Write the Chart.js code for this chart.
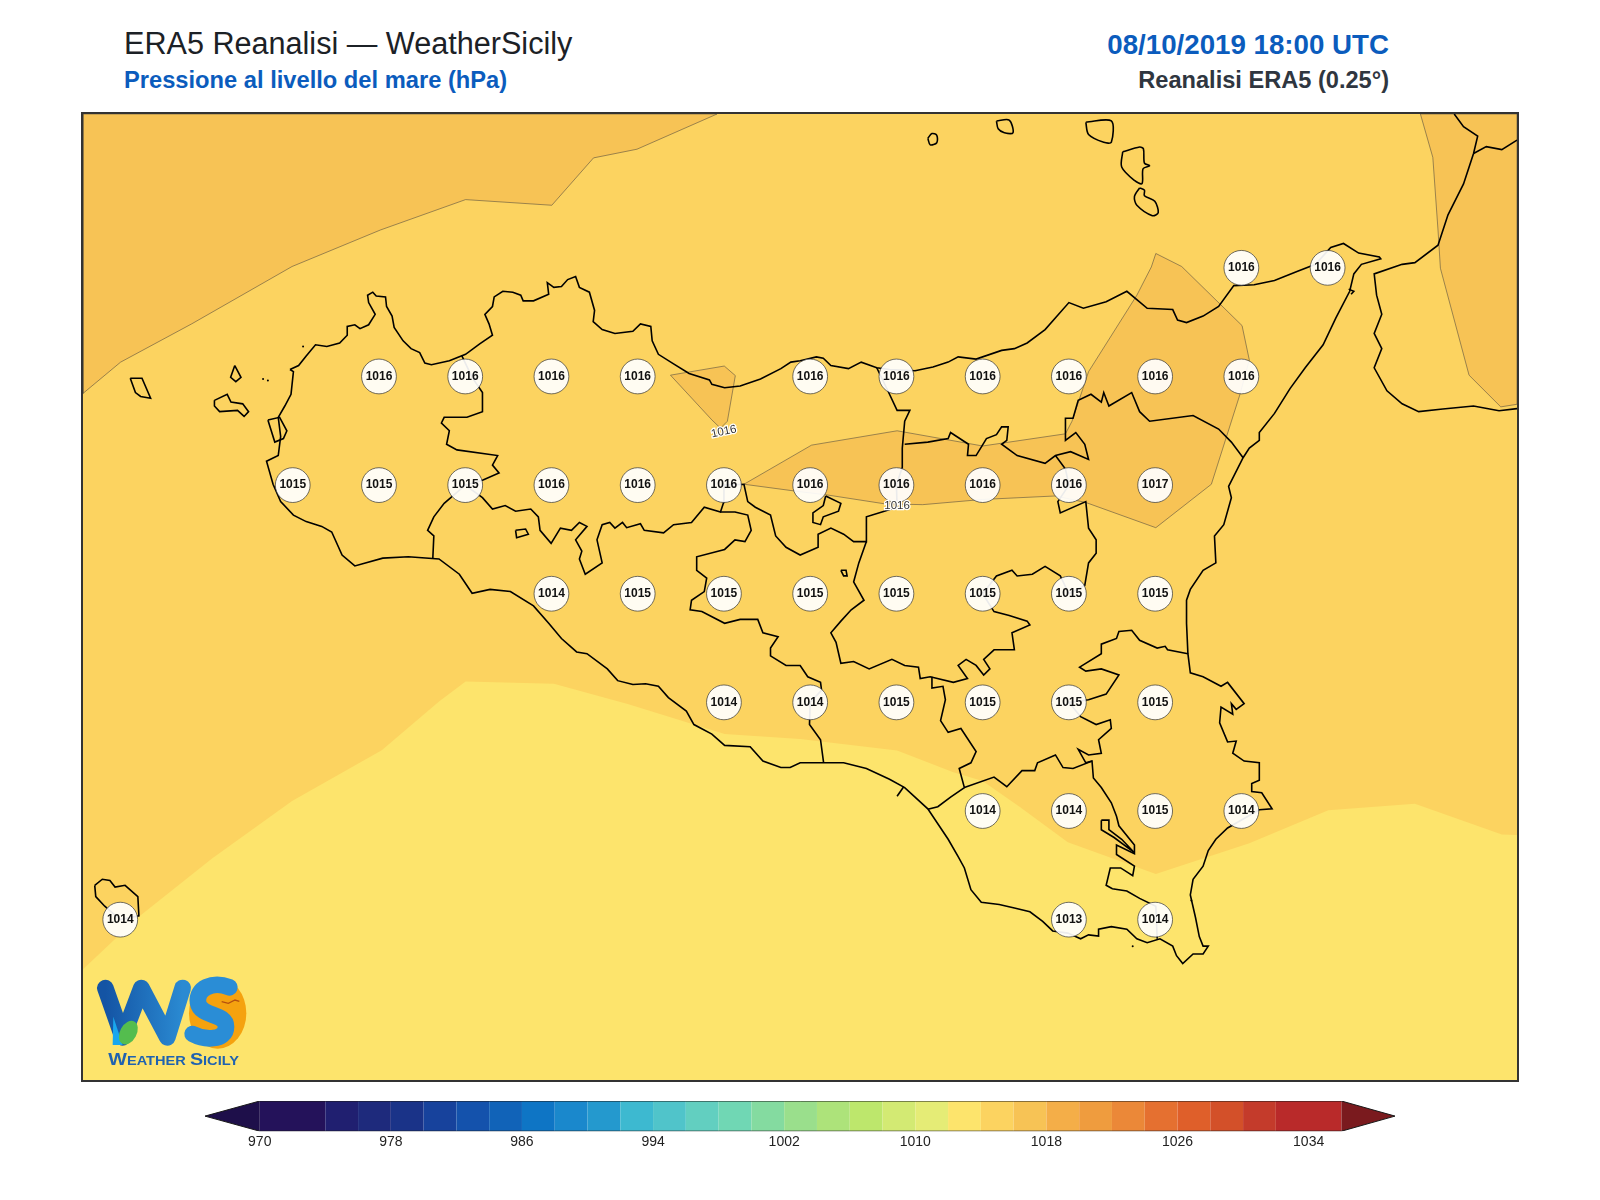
<!DOCTYPE html>
<html>
<head>
<meta charset="utf-8">
<title>ERA5 Reanalisi - WeatherSicily</title>
<script src="https://cdn.jsdelivr.net/npm/chart.js@4"></script>
<style>
  html, body { margin: 0; padding: 0; background: #fff; }
  body { width: 1600px; height: 1200px; position: relative; overflow: hidden; font-family: "Liberation Sans", Arial, sans-serif; }
  .t { position: absolute; white-space: nowrap; line-height: 1; }
  #mapChart { position: absolute; left: 83px; top: 114px; outline: 2px solid #333; }
  #barChart { position: absolute; left: 205px; top: 1101px; }
  #logo { position: absolute; left: 80px; top: 960px; }
</style>
</head>
<body>
<div class="t" style="left:124px;top:28px;font-size:30.6px;color:#1c2126">ERA5 Reanalisi — WeatherSicily</div>
<div class="t" style="left:124px;top:69px;font-size:23.7px;font-weight:bold;color:#0b5cbd">Pressione al livello del mare (hPa)</div>
<div class="t" style="right:211px;top:31px;font-size:27.7px;font-weight:bold;color:#0b5cbd">08/10/2019 18:00 UTC</div>
<div class="t" style="right:211px;top:69px;font-size:23.6px;font-weight:bold;color:#2f3640">Reanalisi ERA5 (0.25°)</div>

<canvas id="mapChart" width="1434" height="966"></canvas>
<canvas id="barChart" width="1190" height="53"></canvas>

<svg id="logo" width="200" height="130" viewBox="0 0 600 390">
  <defs>
    <linearGradient id="wGrad" x1="0" x2="1" y1="0" y2="0">
      <stop offset="0" stop-color="#1454a4"/><stop offset="1" stop-color="#2a8ad2"/>
    </linearGradient>
  </defs>
  <ellipse cx="413" cy="160" rx="86" ry="106" fill="#f5a20f"/>
  <path d="M76 84 L128 232 L184 84 L262 232 L308 84" fill="none" stroke="url(#wGrad)" stroke-width="50" stroke-linejoin="round" stroke-linecap="round"/>
  <path d="M100 170 L128 255 L98 255 Z" fill="#19a7ee"/>
  <ellipse cx="145" cy="218" rx="25" ry="38" transform="rotate(28 145 218)" fill="#54bd4e"/>
  <path d="M448 82 C398 62 348 85 354 128 C362 172 438 158 438 200 C438 244 372 240 338 222" fill="none" stroke="#2a8dd6" stroke-width="50" stroke-linecap="round"/>
  <path d="M425 125 L445 130 L465 120 L478 124" fill="none" stroke="#b5500f" stroke-width="4"/>
  <text x="85" y="316" font-family="Liberation Sans" font-weight="bold" font-size="37" fill="#1f62b0" textLength="392" lengthAdjust="spacingAndGlyphs"><tspan font-size="50">W</tspan>EATHER <tspan font-size="50">S</tspan>ICILY</text>
</svg>

<script>
// limiti della mappa (gradi)
const lonMin = 11.892, lonMax = 16.049;
const latMin = 36.381, latMax = 38.604;

// griglia ERA5: valori letti nei cerchi
const stationLon = [
  15.25, 15.5,
  12.75, 13, 13.25, 13.5, 14, 14.25, 14.5, 14.75, 15, 15.25,
  12.5, 12.75, 13, 13.25, 13.5, 13.75, 14, 14.25, 14.5, 14.75, 15,
  13.25, 13.5, 13.75, 14, 14.25, 14.5, 14.75, 15,
  13.75, 14, 14.25, 14.5, 14.75, 15,
  14.5, 14.75, 15, 15.25,
  12, 14.75, 15
];
const stationLat = [
  38.25, 38.25,
  38, 38, 38, 38, 38, 38, 38, 38, 38, 38,
  37.75, 37.75, 37.75, 37.75, 37.75, 37.75, 37.75, 37.75, 37.75, 37.75, 37.75,
  37.5, 37.5, 37.5, 37.5, 37.5, 37.5, 37.5, 37.5,
  37.25, 37.25, 37.25, 37.25, 37.25, 37.25,
  37, 37, 37, 37,
  36.75, 36.75, 36.75
];
const stationHpa = [
  1016, 1016,
  1016, 1016, 1016, 1016, 1016, 1016, 1016, 1016, 1016, 1016,
  1015, 1015, 1015, 1016, 1016, 1016, 1016, 1016, 1016, 1016, 1017,
  1014, 1015, 1015, 1015, 1015, 1015, 1015, 1015,
  1014, 1014, 1015, 1015, 1015, 1015,
  1014, 1014, 1015, 1014,
  1014, 1013, 1014
];

// colorbar
const barLevels = [970, 974, 976, 978, 980, 982, 984, 986, 988, 990, 992, 994, 996, 998, 1000, 1002, 1004, 1006, 1008, 1010, 1012, 1014, 1016, 1018, 1020, 1022, 1024, 1026, 1028, 1030, 1032, 1036];
const barColours = ['#24125a', '#201f70', '#1e2a7c', '#1a3388', '#17429c', '#1452ac', '#1163b8', '#0e75c5', '#1a88cc', '#2499ce', '#3db9d0', '#50c4ca', '#62cfc0', '#70d7b4', '#84dba0', '#9adf8c', '#ade37a', '#bde76c', '#d3ea73', '#e5ec76', '#fde46c', '#fcd360', '#f7c355', '#f4ae48', '#ef9c3e', '#eb8838', '#e57030', '#df5f2a', '#d35029', '#c43b2b', '#b92a2a'];
const barTicks = [970, 978, 986, 994, 1002, 1010, 1018, 1026, 1034];
const barTipLow = 966.66, barTipHigh = 1039.27;

// contorni pressione
const band1014 = [[11.892,38.604],[16.049,38.604],[16.049,36.945],[16.005,36.946],[15.753,37.017],[15.502,37.002],[15.273,36.926],[15.002,36.855],[14.747,36.928],[14.607,37.010],[14.500,37.069],[14.415,37.089],[14.252,37.139],[13.971,37.166],[13.752,37.177],[13.471,37.246],[13.257,37.293],[13.001,37.298],[12.924,37.252],[12.758,37.140],[12.498,37.023],[12.266,36.891],[12.051,36.755],[11.892,36.636]];
const band1016NW = [[11.892,38.604],[11.892,37.961],[12.001,38.033],[12.207,38.121],[12.498,38.253],[12.754,38.337],[13.001,38.407],[13.251,38.394],[13.372,38.503],[13.498,38.523],[13.73,38.604]];
const band1016Termini = [[13.595,38.003],[13.751,38.024],[13.783,38.002],[13.760,37.897],[13.740,37.881],[13.715,37.900]];
const band1016Centre = [[15.002,38.283],[15.077,38.253],[15.252,38.117],[15.273,38.038],[15.246,37.959],[15.163,37.752],[15.002,37.652],[14.799,37.710],[14.711,37.725],[14.500,37.717],[14.326,37.705],[14.215,37.707],[14.052,37.727],[13.959,37.736],[13.808,37.752],[14.004,37.842],[14.252,37.875],[14.500,37.840],[14.740,37.868],[14.759,37.897],[14.807,38.011],[14.947,38.187],[14.989,38.252]];
const band1016East = [[15.769,38.604],[15.805,38.504],[15.820,38.337],[15.827,38.249],[15.910,38.003],[16.002,37.930],[16.049,37.936],[16.049,38.604]];
const contourLabelLon = [13.75, 14.252];
const contourLabelLat = [37.873, 37.702];
const contourLabelDeg = [-12, 0];

// costa Sicilia
const coastSicily = [[12.492,38.016],[12.517,38.025],[12.539,38.047],[12.566,38.073],[12.599,38.069],[12.636,38.077],[12.658,38.095],[12.658,38.115],[12.680,38.119],[12.695,38.110],[12.720,38.119],[12.739,38.143],[12.720,38.170],[12.717,38.187],[12.732,38.194],[12.742,38.185],[12.769,38.183],[12.772,38.161],[12.788,38.139],[12.794,38.113],[12.820,38.082],[12.843,38.064],[12.868,38.055],[12.883,38.031],[12.902,38.027],[12.954,38.036],[13.001,38.051],[13.042,38.075],[13.079,38.095],[13.069,38.121],[13.057,38.143],[13.079,38.161],[13.084,38.183],[13.109,38.196],[13.138,38.194],[13.161,38.187],[13.168,38.174],[13.198,38.174],[13.242,38.189],[13.238,38.216],[13.257,38.205],[13.279,38.207],[13.297,38.223],[13.320,38.230],[13.331,38.205],[13.360,38.194],[13.375,38.152],[13.371,38.126],[13.397,38.108],[13.434,38.099],[13.486,38.104],[13.508,38.121],[13.538,38.115],[13.542,38.082],[13.560,38.051],[13.604,38.029],[13.649,38.007],[13.708,37.992],[13.715,37.982],[13.752,37.974],[13.797,37.978],[13.856,37.994],[13.915,38.018],[13.944,38.033],[13.971,38.036],
  [14.018,38.045],[14.038,38.042],[14.060,38.025],[14.111,38.018],[14.148,38.033],[14.193,38.020],[14.230,38.016],[14.304,38.013],[14.356,38.022],[14.400,38.033],[14.429,38.045],[14.481,38.040],[14.555,38.060],[14.592,38.064],[14.629,38.077],[14.681,38.108],[14.750,38.170],[14.792,38.157],[14.858,38.172],[14.918,38.196],[14.977,38.157],[15.051,38.154],[15.065,38.130],[15.091,38.124],[15.139,38.139],[15.184,38.161],[15.228,38.209],[15.287,38.211],[15.346,38.221],[15.413,38.242],[15.465,38.258],[15.509,38.297],[15.546,38.306],[15.590,38.284],[15.650,38.275],[15.654,38.271],[15.598,38.258],[15.576,38.236],[15.564,38.196],[15.524,38.135],[15.487,38.073],[15.435,38.020],[15.391,37.972],[15.346,37.915],[15.302,37.871],[15.302,37.853],[15.273,37.835],[15.255,37.813],[15.213,37.747],[15.221,37.721],[15.199,37.659],[15.172,37.633],[15.176,37.571],[15.139,37.554],[15.102,37.510],[15.091,37.485],
  [15.091,37.432],[15.095,37.362],[15.102,37.318],[15.139,37.309],[15.191,37.287],[15.210,37.296],[15.258,37.247],[15.235,37.234],[15.221,37.247],[15.225,37.223],[15.191,37.239],[15.187,37.203],[15.210,37.159],[15.235,37.161],[15.225,37.133],[15.258,37.115],[15.302,37.111],[15.302,37.071],[15.280,37.063],[15.280,37.045],[15.309,37.042],[15.339,37.005],[15.302,37.003],[15.210,36.961],[15.176,36.935],[15.154,36.909],[15.139,36.873],[15.110,36.843],[15.102,36.807],[15.117,36.755],[15.128,36.711],[15.139,36.689],[15.154,36.689],[15.139,36.671],[15.110,36.671],[15.080,36.649],[15.062,36.667],[15.051,36.689],[15.014,36.706],[14.977,36.697],[14.947,36.706],[14.918,36.728],[14.873,36.734],[14.836,36.728],[14.836,36.712],[14.807,36.715],[14.784,36.706],[14.747,36.719],[14.703,36.724],[14.674,36.746],[14.637,36.768],[14.592,36.777],[14.548,36.785],[14.496,36.790],[14.466,36.819],[14.447,36.869],[14.429,36.895],[14.400,36.935],[14.341,37.005],[14.274,37.054],[14.230,37.073],[14.163,37.098],[14.097,37.111],[14.038,37.111],[13.971,37.111],
  [13.942,37.100],[13.915,37.100],[13.863,37.115],[13.826,37.148],[13.752,37.151],[13.715,37.177],[13.663,37.199],[13.641,37.230],[13.589,37.261],[13.560,37.287],[13.523,37.293],[13.486,37.291],[13.442,37.300],[13.412,37.327],[13.353,37.362],[13.323,37.366],[13.279,37.397],[13.242,37.432],[13.198,37.472],
  [13.131,37.505],[13.072,37.510],[13.020,37.501],[12.983,37.545],[12.924,37.580],[12.835,37.585],[12.761,37.582],[12.680,37.564],[12.643,37.589],[12.613,37.642],[12.584,37.655],[12.539,37.666],[12.502,37.681],[12.465,37.712],[12.443,37.752],[12.424,37.805],[12.458,37.818],[12.465,37.862],[12.458,37.906],[12.477,37.932],[12.495,37.959],[12.502,38.011],[12.492,38.016]];

// confini provinciali
const borderTrapani = [[12.990,38.048],[13.020,37.998],[13.050,37.963],[13.050,37.919],[13.005,37.906],[12.939,37.906],[12.931,37.893],[12.954,37.875],[12.946,37.844],[12.976,37.831],[13.094,37.818],[13.079,37.796],[13.098,37.778],[13.050,37.761],[13,37.75],[12.939,37.708],[12.909,37.677],[12.891,37.646],[12.909,37.633],[12.906,37.580]];
const borderPalermoSud = [[13,37.75],[13.050,37.721],[13.079,37.695],[13.116,37.703],[13.146,37.690],[13.190,37.695],[13.212,37.677],[13.217,37.646],[13.249,37.616],[13.276,37.651],[13.308,37.646],[13.331,37.664],[13.353,37.655],[13.320,37.624],[13.338,37.598],[13.331,37.580],[13.348,37.545],[13.397,37.571],[13.382,37.624],[13.397,37.659],[13.419,37.664],[13.434,37.651],[13.456,37.664],[13.468,37.652],[13.508,37.661],[13.519,37.646],[13.575,37.640],[13.604,37.659],[13.656,37.664],[13.693,37.699],[13.740,37.688],[13.749,37.710],[13.75,37.75]];
const borderAgrigento = [[13.740,37.688],[13.782,37.688],[13.819,37.681],[13.829,37.646],[13.811,37.620],[13.782,37.624],[13.752,37.602],[13.671,37.585],[13.671,37.554],[13.700,37.536],[13.693,37.505],[13.656,37.485],[13.652,37.463],[13.686,37.459],[13.752,37.432],[13.797,37.441],[13.848,37.441],[13.863,37.410],[13.907,37.401],[13.885,37.375],[13.885,37.357],[13.930,37.335],[13.971,37.335],[13.993,37.309],[14.030,37.296],[14.033,37.278],[14,37.25],[13.998,37.199],[14.030,37.164],[14.039,37.111]];
const borderMadonie = [[13.75,37.75],[13.808,37.752],[13.819,37.712],[13.841,37.699],[13.885,37.681],[13.900,37.633],[13.930,37.607],[13.971,37.589],[14.023,37.607],[14.023,37.637],[14.060,37.651],[14.097,37.637],[14.126,37.620],[14.163,37.620],[14.163,37.677],[14.215,37.690],[14.252,37.699],[14.25,37.75],[14.267,37.791],[14.267,37.835],[14.274,37.897],[14.289,37.922],[14.252,37.922],[14.230,37.959],[14.193,38.020]];
const borderEnna = [[14.163,37.620],[14.141,37.571],[14.126,37.527],[14.156,37.485],[14.119,37.463],[14.089,37.437],[14.060,37.410],[14.075,37.388],[14.089,37.340],[14.126,37.344],[14.171,37.327],[14.237,37.349],[14.274,37.335],[14.314,37.331],[14.319,37.305],[14.348,37.309],[14.415,37.296],[14.456,37.305],[14.429,37.335],[14.452,37.349],[14.481,37.335],[14.503,37.313],[14.521,37.327],[14.503,37.349],[14.533,37.371],[14.592,37.371],[14.585,37.410],[14.637,37.428],[14.629,37.437],[14.577,37.450],[14.533,37.459],[14.5,37.5],[14.540,37.541],[14.585,37.554],[14.600,37.541],[14.644,37.545],[14.681,37.563],[14.725,37.541],[14.75,37.5]];
const borderNebrodi = [[14.75,37.75],[14.718,37.712],[14.725,37.686],[14.799,37.712],[14.807,37.651],[14.829,37.624],[14.829,37.593],[14.807,37.571],[14.796,37.519],[14.75,37.5]];
const borderMessina = [[14.274,37.844],[14.341,37.849],[14.400,37.857],[14.407,37.871],[14.459,37.844],[14.456,37.818],[14.481,37.818],[14.511,37.857],[14.540,37.866],[14.555,37.884],[14.574,37.884],[14.570,37.853],[14.555,37.844],[14.600,37.818],[14.681,37.800],[14.711,37.818],[14.755,37.827],[14.807,37.809],[14.796,37.844],[14.770,37.871],[14.740,37.853],[14.740,37.904],[14.762,37.904],[14.777,37.945],[14.814,37.959],[14.844,37.941],[14.851,37.963],[14.866,37.932],[14.932,37.963],[14.955,37.919],[14.984,37.897],[15.110,37.910],[15.184,37.879],[15.221,37.849],[15.255,37.813]];
const borderMessinaSpur = [[14.711,37.818],[14.740,37.787],[14.75,37.75]];
const borderCaltanissetta = [[14.353,37.309],[14.353,37.283],[14.385,37.287],[14.392,37.256],[14.378,37.208],[14.400,37.181],[14.437,37.190],[14.481,37.137],[14.466,37.111],[14.432,37.098],[14.447,37.054],[14.407,37.032],[14.370,37.010],[14.341,37.004]];
const borderRagusa = [[14.447,37.054],[14.533,37.078],[14.570,37.056],[14.614,37.093],[14.651,37.093],[14.659,37.111],[14.711,37.129],[14.733,37.100],[14.762,37.098],[14.817,37.115],[14.821,37.076],[14.844,37.054],[14.873,37.019],[14.888,36.988],[14.895,36.966],[14.940,36.922],[14.940,36.902],[14.888,36.922],[14.888,36.900],[14.940,36.873],[14.935,36.851],[14.900,36.869],[14.870,36.869],[14.858,36.829],[14.876,36.821],[14.918,36.816],[14.955,36.799],[15.002,36.781],[15.006,36.706]];
const borderCatania = [[14.817,37.115],[14.799,37.111],[14.777,37.142],[14.807,37.129],[14.844,37.133],[14.836,37.164],[14.873,37.190],[14.870,37.210],[14.829,37.199],[14.784,37.217],[14.75,37.25],[14.807,37.256],[14.858,37.269],[14.895,37.313],[14.844,37.327],[14.799,37.322],[14.781,37.331],[14.844,37.362],[14.844,37.384],[14.888,37.397],[14.895,37.413],[14.932,37.416],[14.955,37.393],[15.006,37.375],[15.029,37.379],[15.036,37.371],[15.095,37.362]];
const gelaTick = [[14.252,37.034],[14.271,37.056]];
const messinaHook = [[15.561,38.201],[15.576,38.196],[15.568,38.189]];

// isole e laghi (chiusi in fase di disegno)
const isleMarettimo = [[12.029,37.996],[12.063,37.996],[12.088,37.950],[12.059,37.954],[12.044,37.963]];
const isleLevanzo = [[12.332,38.025],[12.350,37.998],[12.335,37.988],[12.320,37.998]];
const isleFavignana = [[12.273,37.945],[12.310,37.959],[12.321,37.941],[12.355,37.937],[12.372,37.919],[12.359,37.908],[12.340,37.922],[12.288,37.919],[12.273,37.932]];
const isleMozia = [[12.428,37.900],[12.462,37.906],[12.483,37.875],[12.473,37.857],[12.448,37.849]];
const lakeArancio = [[13.146,37.646],[13.175,37.649],[13.183,37.637],[13.149,37.629]];
const lakeAncipa = [[14.045,37.725],[14.089,37.708],[14.082,37.690],[14.038,37.677],[14.030,37.659],[14.008,37.664],[14.008,37.686],[14.038,37.703]];
const lakePozzillo = [[14.089,37.554],[14.104,37.554],[14.107,37.541],[14.097,37.541]];
const lagoonSiracusa = [[14.844,36.979],[14.866,36.979],[14.866,36.957],[14.903,36.935],[14.940,36.904],[14.881,36.939],[14.844,36.957]];
const islePantelleria = [[11.926,36.829],[11.948,36.843],[11.970,36.840],[11.985,36.825],[12.014,36.829],[12.051,36.803],[12.054,36.759],[12,36.75],[11.955,36.781],[11.929,36.803]];
const isleAlicudi = [[14.341,38.548],[14.353,38.559],[14.367,38.555],[14.367,38.538],[14.348,38.533]];
const isleFilicudi = [[14.540,38.588],[14.577,38.590],[14.588,38.561],[14.563,38.561],[14.545,38.570]];
const isleSalina = [[14.799,38.585],[14.873,38.588],[14.873,38.539],[14.851,38.539],[14.807,38.557]];
const isleLipari = [[14.906,38.517],[14.955,38.528],[14.966,38.524],[14.969,38.491],[14.984,38.485],[14.965,38.478],[14.962,38.444],[14.940,38.451],[14.903,38.482]];
const isleVulcano = [[14.955,38.434],[14.969,38.429],[14.969,38.416],[14.999,38.403],[15.009,38.377],[14.992,38.370],[14.947,38.394],[14.940,38.414]];
const rockLon = [12.530, 12.414, 12.428, 14.935, 15.105];
const rockLat = [38.069, 37.994, 37.991, 36.689, 36.794];

// Calabria
const coastCalabria = [[15.867,38.604],[15.894,38.575],[15.935,38.553],[15.923,38.513],[15.894,38.443],[15.849,38.372],[15.820,38.302],[15.753,38.262],[15.716,38.258],[15.635,38.236],[15.642,38.187],[15.657,38.143],[15.635,38.099],[15.657,38.064],[15.635,38.020],[15.672,37.967],[15.716,37.937],[15.764,37.919],[15.834,37.925],[15.923,37.932],[15.997,37.921],[16.049,37.926]];
const borderCalabria = [[15.923,38.513],[15.960,38.529],[16.005,38.522],[16.049,38.544]];

const pts = a => a.map(p => ({ x: p[0], y: p[1] }));
const closed = a => a.concat([a[0]]);

function fillSet(a, colour, edge) {
  return { data: pts(closed(a)), showLine: true, fill: 'shape', backgroundColor: colour, borderColor: edge || colour, borderWidth: edge ? 0.6 : 0, pointRadius: 0, tension: 0 };
}
function lineSet(a, tension) {
  return { data: pts(a), showLine: true, fill: false, borderColor: '#000', borderWidth: 1.6, pointRadius: 0, tension: tension || 0 };
}

const mapSets = [
  fillSet([[lonMin, latMax], [lonMax, latMax], [lonMax, latMin], [lonMin, latMin]], '#fde46c'),
  fillSet(band1014, '#fcd360'),
  fillSet(band1016NW, '#f7c355', '#5a5040'),
  fillSet(band1016Termini, '#f7c355', '#5a5040'),
  fillSet(band1016Centre, '#f7c355', '#5a5040'),
  fillSet(band1016East, '#f7c355', '#5a5040')
];
[coastSicily, borderTrapani, borderPalermoSud, borderAgrigento, borderMadonie, borderEnna, borderNebrodi, borderMessina, borderMessinaSpur, borderCaltanissetta, borderRagusa, borderCatania, gelaTick, messinaHook, coastCalabria, borderCalabria].forEach(a => mapSets.push(lineSet(a)));
[isleMarettimo, isleLevanzo, isleFavignana, isleMozia, lakeArancio, lakeAncipa, lakePozzillo, lagoonSiracusa, islePantelleria].forEach(a => mapSets.push(lineSet(closed(a))));
[isleAlicudi, isleFilicudi, isleSalina, isleLipari, isleVulcano].forEach(a => mapSets.push(lineSet(closed(a), 0.3)));
mapSets.push({
  data: rockLon.map((lon, i) => ({ x: lon, y: rockLat[i] })),
  showLine: false, pointRadius: 1, backgroundColor: '#000', borderWidth: 0
});
mapSets.push({
  data: stationLon.map((lon, i) => ({ x: lon, y: stationLat[i] })),
  showLine: false, pointRadius: 17.4, backgroundColor: 'rgba(255,255,255,0.92)', borderColor: '#333', borderWidth: 0.7
});
// Chart.js disegna per ultimo l'order piu basso
mapSets.forEach((d, i) => { d.order = mapSets.length - i; });

// testo dei cerchi e etichette dei contorni
const mapLabels = {
  id: 'mapLabels',
  afterDatasetsDraw(chart) {
    const { ctx, scales } = chart;
    ctx.save();
    ctx.textAlign = 'center';
    ctx.textBaseline = 'middle';
    ctx.font = 'bold 12px "Liberation Sans"';
    ctx.fillStyle = '#111';
    stationHpa.forEach((v, i) => {
      ctx.fillText(String(v), scales.x.getPixelForValue(stationLon[i]), scales.y.getPixelForValue(stationLat[i]));
    });
    ctx.font = '11.5px "Liberation Sans"';
    contourLabelLon.forEach((lon, i) => {
      ctx.save();
      ctx.translate(scales.x.getPixelForValue(lon), scales.y.getPixelForValue(contourLabelLat[i]));
      ctx.rotate(contourLabelDeg[i] * Math.PI / 180);
      ctx.lineWidth = 2.5;
      ctx.strokeStyle = '#fff';
      ctx.strokeText('1016', 0, 0);
      ctx.fillStyle = '#333';
      ctx.fillText('1016', 0, 0);
      ctx.restore();
    });
    ctx.restore();
  }
};

new Chart(document.getElementById('mapChart'), {
  type: 'scatter',
  data: { datasets: mapSets },
  options: {
    responsive: false,
    animation: false,
    layout: { padding: 0, autoPadding: false },
    plugins: { legend: { display: false }, tooltip: { enabled: false } },
    scales: {
      x: { type: 'linear', min: lonMin, max: lonMax, display: false },
      y: { type: 'linear', min: latMin, max: latMax, display: false }
    }
  },
  plugins: [mapLabels]
});

// colorbar: bande e frecce
const barSets = barColours.map((c, i) => fillSet([[barLevels[i], 0], [barLevels[i + 1], 0], [barLevels[i + 1], 1], [barLevels[i], 1]], c));
barSets.push(fillSet([[barLevels[0], 0], [barLevels[0], 1], [barTipLow, 0.5]], '#1e0f4a'));
barSets.push(fillSet([[1036, 0], [1036, 1], [barTipHigh, 0.5]], '#7a1a1e'));
barSets.push({
  data: pts([[970, 1], [1036, 1], [barTipHigh, 0.5], [1036, 0], [970, 0], [barTipLow, 0.5], [970, 1]]),
  showLine: true, fill: false, borderColor: '#1a1a1a', borderWidth: 1, pointRadius: 0, tension: 0
});
barSets.forEach((d, i) => { d.order = barSets.length - i; });

new Chart(document.getElementById('barChart'), {
  type: 'scatter',
  data: { datasets: barSets },
  options: {
    responsive: false,
    animation: false,
    layout: { padding: 0, autoPadding: false },
    plugins: { legend: { display: false }, tooltip: { enabled: false } },
    scales: {
      x: {
        type: 'linear', min: barTipLow, max: barTipHigh,
        grid: { display: false, drawTicks: false },
        border: { display: false },
        afterBuildTicks: s => { s.ticks = barTicks.map(v => ({ value: v })); },
        ticks: { autoSkip: false, maxRotation: 0, padding: 3, color: '#222', font: { family: 'Liberation Sans', size: 14 }, callback: v => String(v) }
      },
      y: { type: 'linear', min: 0, max: 1, display: false }
    }
  }
});
</script>
</body>
</html>
